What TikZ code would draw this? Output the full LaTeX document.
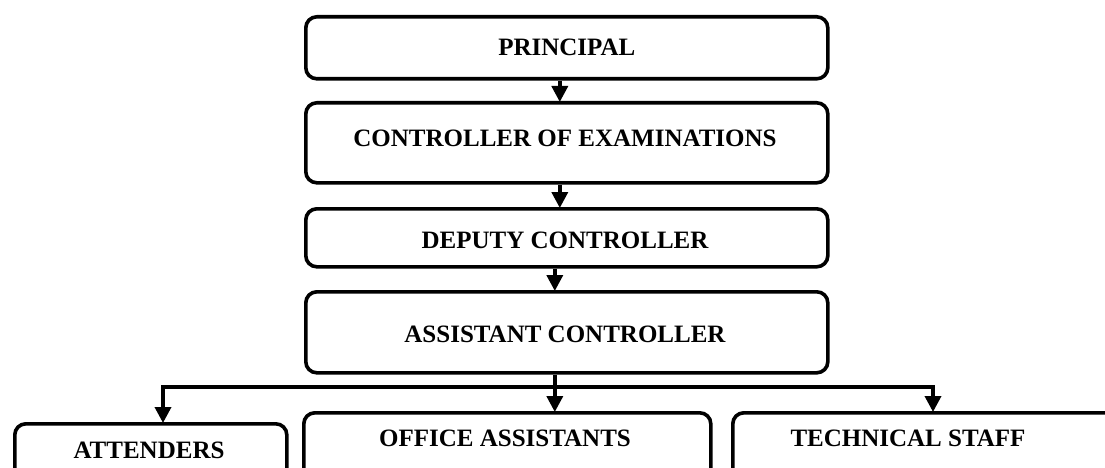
\documentclass[tikz,border=0pt]{standalone}
\usepackage{fontspec}
\setmainfont{Liberation Serif}
\usetikzlibrary{arrows.meta}
\begin{document}
\begin{tikzpicture}[x=1pt,y=-1pt,
  box/.style={draw, line width=3.6pt, rounded corners=11pt, anchor=north west,
    inner sep=0pt, font=\fontsize{25}{30}\selectfont\bfseries},
  txt/.style={font=\fontsize{25}{30}\selectfont\bfseries, inner sep=0pt},
  link/.style={line width=3.6pt},
  arr/.style={line width=3.6pt, -{Triangle[length=16pt,width=16pt]}, shorten >=-1pt}]
  \clip (0,0) rectangle (1105,468);

  % chain of command
  \node[box, minimum width=522pt, minimum height=62pt] (prin) at (304,15) {PRINCIPAL};
  \node[box, minimum width=522pt, minimum height=80pt] (ctrl) at (304,101) {};
  \node[txt] (ctrlT) at (565,138) {CONTROLLER OF EXAMINATIONS};
  \node[box, minimum width=522pt, minimum height=58pt] (dep) at (304,207) {};
  \node[txt] (depT) at (565,240) {DEPUTY CONTROLLER};
  \node[box, minimum width=522pt, minimum height=81pt] (asst) at (304,290) {};
  \node[txt] (asstT) at (565,334) {ASSISTANT CONTROLLER};

  % staff boxes (run past the lower edge)
  \node[box, minimum width=272pt, minimum height=90pt] (att) at (13,422) {};
  \node[txt] (attT) at (149,450) {ATTENDERS};
  \node[box, minimum width=407pt, minimum height=100pt] (off) at (302,411) {};
  \node[txt] (offT) at (505,438) {OFFICE ASSISTANTS};
  \node[box, minimum width=420pt, minimum height=100pt] (tech) at (731,411) {};
  \node[txt] (techT) at (908,438) {TECHNICAL STAFF};

  % connectors
  \draw[arr] ([xshift=-7pt]prin.south) -- ([xshift=-7pt]ctrl.north);
  \draw[arr] ([xshift=-7pt]ctrl.south) -- ([xshift=-7pt]dep.north);
  \draw[arr] ([xshift=-12pt]dep.south) -- ([xshift=-12pt]asst.north);
  \draw[arr] ([xshift=-12pt]asst.south) -- ([xshift=-12pt]asst.south |- off.north);
  \coordinate (busL) at (163,387);
  \coordinate (busR) at (933,387);
  \draw[link] ([xshift=-1.8pt]busL) -- ([xshift=1.8pt]busR);
  \draw[arr] (busL) -- (busL |- att.north);
  \draw[arr] (busR) -- (busR |- tech.north);
\end{tikzpicture}
\end{document}
